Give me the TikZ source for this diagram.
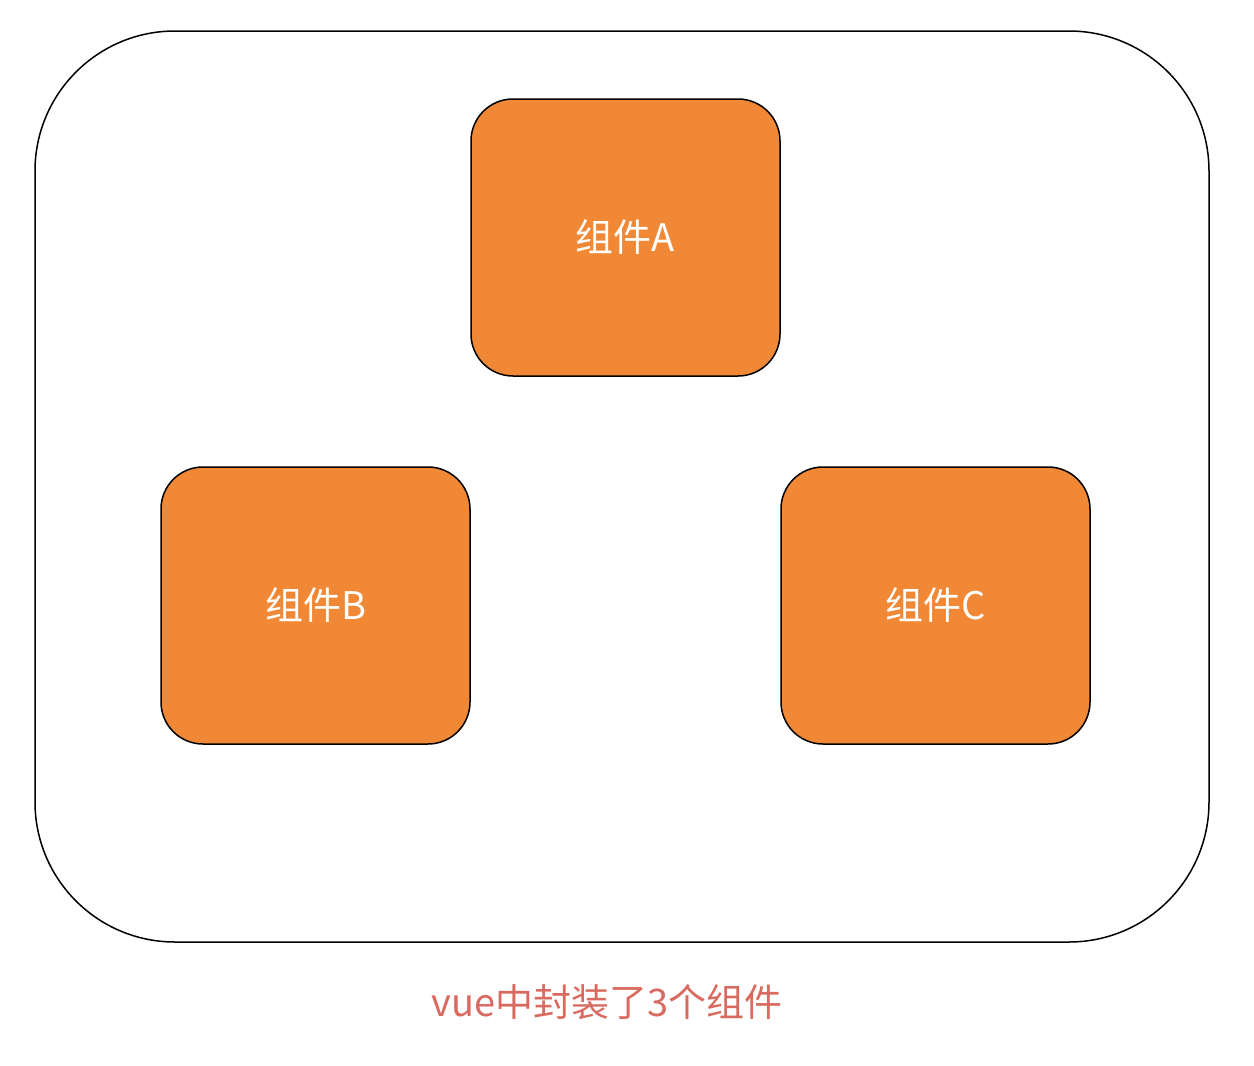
\documentclass[tikz,border=0pt]{standalone}
\usepackage{fontspec}
\newfontfamily\cjk{Noto Sans CJK SC}
\definecolor{boxorange}{HTML}{F08836}
\definecolor{captionred}{HTML}{D96A60}
\tikzset{
  frame/.style={draw=black,line width=1.5pt,rounded corners=140pt,minimum width=1174pt,minimum height=911pt},
  compbox/.style={draw=black,line width=1.5pt,fill=boxorange,rounded corners=42pt,minimum width=309pt,minimum height=277pt,text=white,font=\cjk\fontsize{38}{44}\selectfont},
}
\begin{document}
\begin{tikzpicture}[x=1pt,y=-1pt]
  \useasboundingbox (0,0) rectangle (1254,1066);
  % outer frame
  \node[frame] (vue) at (622,486.5) {};
  % components
  \node[compbox] (compA) at (625.5,237.5) {组件A};
  \node[compbox] (compB) at (315.5,605.5) {组件B};
  \node[compbox] (compC) at (935.5,605.5) {组件C};
  % caption
  \node[text=captionred,font=\cjk\fontsize{38}{44}\selectfont] (caption) at (607,1002) {vue中封装了3个组件};
\end{tikzpicture}
\end{document}
